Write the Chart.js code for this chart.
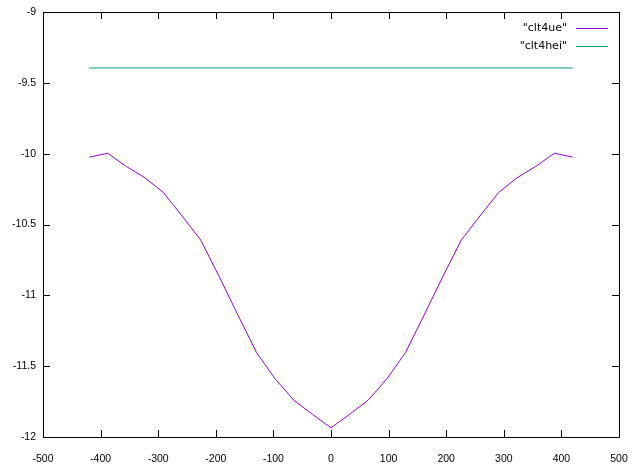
<!DOCTYPE html>
<html>
<head>
<meta charset="utf-8">
<script src="https://cdn.jsdelivr.net/npm/chart.js@4.4.1/dist/chart.umd.min.js"></script>
<style>
	body { margin: 0; background: #fff; }
	#wrap { width: 634px; height: 471px; }
</style>
</head>
<body>
<div id="wrap"><canvas id="plot" width="634" height="471"></canvas></div>
<script>
// data
const xValues = [-420, -387.7, -355.4, -323.1, -290.8, -258.5, -226.2, -193.8, -161.5, -129.2, -96.9, -64.6, -32.3, 0,
	32.3, 64.6, 96.9, 129.2, 161.5, 193.8, 226.2, 258.5, 290.8, 323.1, 355.4, 387.7, 420];
const clt4ue = [-10.025, -9.997, -10.09, -10.17, -10.275, -10.44, -10.61, -10.87, -11.14, -11.405, -11.59, -11.74, -11.84, -11.935,
	-11.84, -11.74, -11.59, -11.405, -11.14, -10.87, -10.61, -10.44, -10.275, -10.17, -10.09, -9.997, -10.025];
const clt4heiX = [-420, 420];
const clt4hei = [-9.395, -9.395];
const seriesNames = ['"clt4ue"', '"clt4hei"'];
const seriesColors = ['#9400d3', '#009e73'];
const xTicks = [-500, 500, 100];
const yTicks = [-12, -9, 0.5];

const pts = (xs, ys) => xs.map((x, i) => ({ x: x, y: ys[i] }));

const TICK = 7;

// gnuplot style frame with inward mirrored ticks + key
const framePlugin = {
	id: 'frame',
	afterDraw(chart) {
		const ctx = chart.ctx;
		const a = chart.chartArea;
		const xs = chart.scales.x, ys = chart.scales.y;
		ctx.save();
		ctx.strokeStyle = '#000';
		ctx.lineWidth = 1;
		ctx.beginPath();
		ctx.rect(Math.round(a.left) + 0.5, Math.round(a.top) + 0.5, Math.round(a.right - a.left), Math.round(a.bottom - a.top));
		xs.ticks.forEach(t => {
			const px = Math.round(xs.getPixelForValue(t.value)) + 0.5;
			ctx.moveTo(px, a.bottom); ctx.lineTo(px, a.bottom - TICK);
			ctx.moveTo(px, a.top); ctx.lineTo(px, a.top + TICK);
		});
		ys.ticks.forEach(t => {
			const py = Math.round(ys.getPixelForValue(t.value)) + 0.5;
			ctx.moveTo(a.left, py); ctx.lineTo(a.left + TICK, py);
			ctx.moveTo(a.right, py); ctx.lineTo(a.right - TICK, py);
		});
		ctx.stroke();

		// key
		ctx.font = '11px "DejaVu Sans"';
		ctx.textAlign = 'right';
		ctx.textBaseline = 'middle';
		chart.data.datasets.forEach((ds, i) => {
			const y = Math.round(a.top + 16 + i * 18) + 0.5;
			ctx.fillStyle = '#000';
			ctx.fillText(ds.label, a.right - 52, y);
			ctx.strokeStyle = seriesColors[i];
			ctx.beginPath();
			ctx.moveTo(a.right - 43, y);
			ctx.lineTo(a.right - 11, y);
			ctx.stroke();
		});
		ctx.restore();
	}
};

new Chart(
	document.getElementById('plot').getContext('2d'),
	{
		type: 'line',
		data: {
			datasets: [{
				label: seriesNames[0],
				data: pts(xValues, clt4ue),
				borderColor: seriesColors[0],
				borderWidth: 1,
				pointRadius: 0,
				tension: 0,
				fill: false
			}, {
				label: seriesNames[1],
				data: pts(clt4heiX, clt4hei),
				borderColor: seriesColors[1],
				borderWidth: 1,
				pointRadius: 0,
				tension: 0,
				fill: false
			}]
		},
		options: {
			responsive: false,
			animation: false,
			layout: { padding: { top: 12, right: 15, left: 0, bottom: 0 } },
			plugins: {
				legend: { display: false },
				tooltip: { enabled: false }
			},
			scales: {
				x: {
					type: 'linear',
					min: xTicks[0], max: xTicks[1],
					afterFit: s => { s.height = 34; s.paddingLeft = 0; s.paddingRight = 0; },
					grid: { display: false, drawTicks: false },
					border: { display: false },
					ticks: { stepSize: xTicks[2], padding: 16, color: '#000', maxRotation: 0,
						font: { family: 'Liberation Sans', size: 10.5 } }
				},
				y: {
					type: 'linear',
					min: yTicks[0], max: yTicks[1],
					afterFit: s => { s.width = 43; s.paddingTop = 0; s.paddingBottom = 0; },
					grid: { display: false, drawTicks: false },
					border: { display: false },
					ticks: { stepSize: yTicks[2], padding: 7, color: '#000',
						callback: v => String(v),
						font: { family: 'Liberation Sans', size: 10.5 } }
				}
			}
		},
		plugins: [framePlugin]
	}
);
</script>
</body>
</html>
